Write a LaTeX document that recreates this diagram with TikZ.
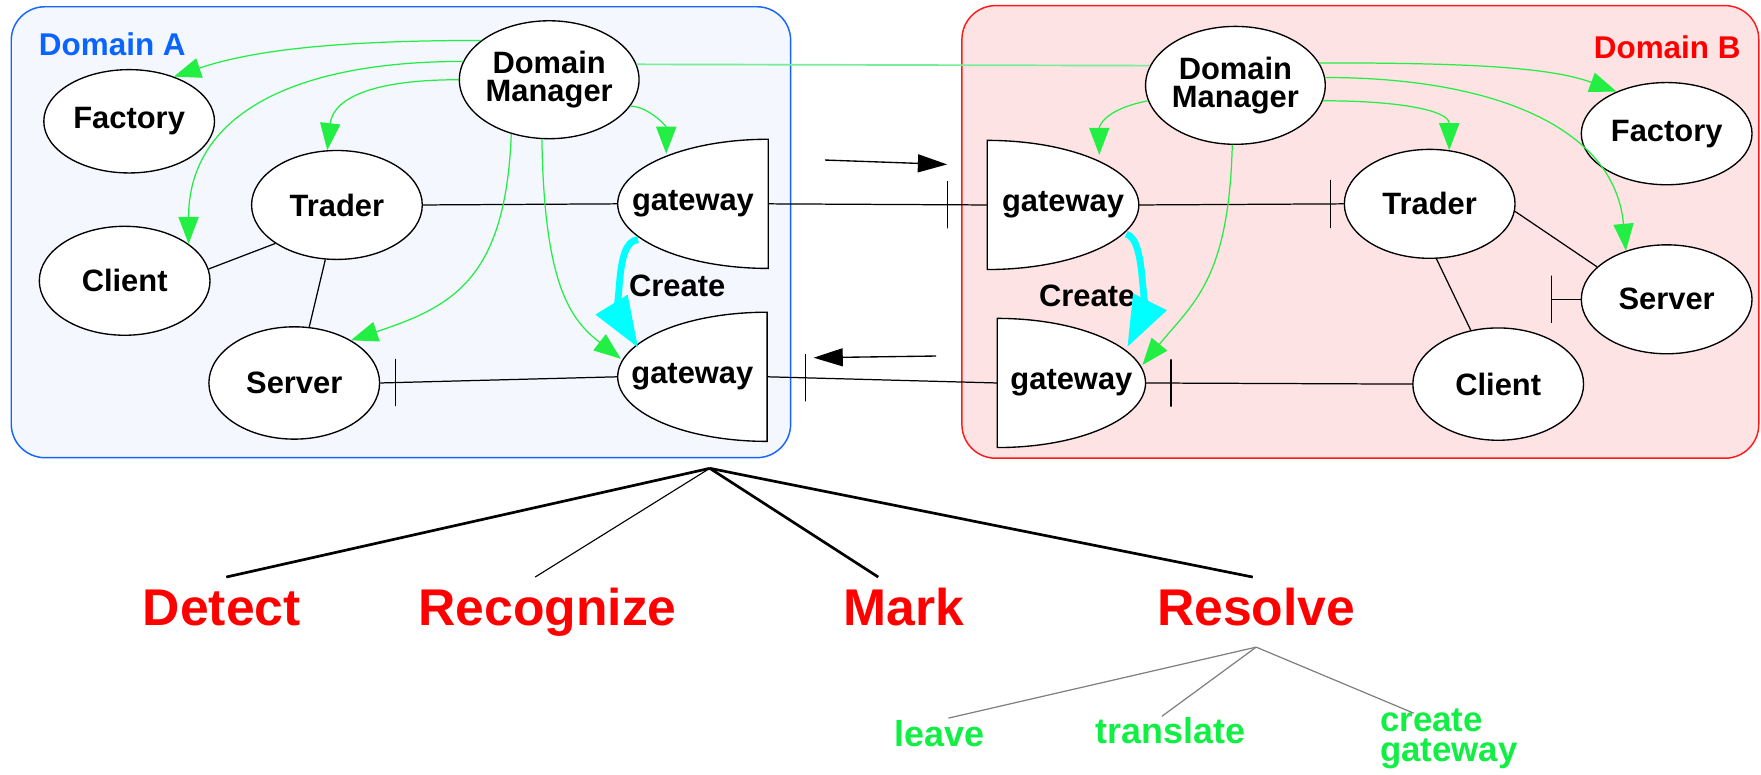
\documentclass[tikz,border=0pt]{standalone}
\usepackage{fontspec}
\setmainfont{Liberation Sans}
\usetikzlibrary{arrows.meta,shapes.geometric,calc}
\definecolor{blueA}{HTML}{1466FF}
\definecolor{bluelbl}{HTML}{0A64FF}
\definecolor{fillA}{HTML}{F4F7FD}
\definecolor{redB}{HTML}{FF1A1A}
\definecolor{fillB}{HTML}{FDE3E3}
\definecolor{grn}{HTML}{22EE44}
\definecolor{grnl}{HTML}{77EE99}
\definecolor{cyn}{HTML}{00FFFF}
\definecolor{lblred}{HTML}{FF0000}
\definecolor{lblgrn}{HTML}{11EE44}
\definecolor{subgray}{HTML}{808080}
\newcommand\nodefont{\fontsize{27.5}{25}\selectfont\bfseries}
\newcommand\bigfont{\fontsize{46}{50}\selectfont\bfseries}
\newcommand\smallfont{\fontsize{32}{24.5}\selectfont\bfseries}
\newcommand\cgfont{\fontsize{31}{26.5}\selectfont\bfseries}
\newcommand\domfont{\fontsize{28}{30}\selectfont\bfseries}
\begin{document}
\begin{tikzpicture}[x=1pt,y=-1pt,
  domA/.style={draw=blueA, fill=fillA, line width=1.3pt, rounded corners=30pt},
  domB/.style={draw=redB, fill=fillB, line width=1.3pt, rounded corners=30pt},
  ell/.style={ellipse, draw, fill=white, line width=1.2pt, inner sep=0pt, font=\nodefont, align=center, minimum width=152pt, minimum height=97pt},
  dm/.style={ell, minimum width=160pt, minimum height=105pt},
  gw/.style={rectangle, inner sep=0pt, minimum width=135pt, minimum height=115pt, font=\nodefont},
  gwshape/.style={draw, fill=white, line width=1.2pt},
  conn/.style={draw, line width=1.1pt},
  tickmark/.style={draw, line width=1.1pt, inner sep=0pt, minimum width=0pt, minimum height=42pt},
  garrow/.style={draw=grn, line width=1.1pt, -{Triangle[length=24pt,width=18pt]}},
  glink/.style={draw=grnl, line width=1.5pt},
  carrow/.style={draw=cyn, line width=6pt, -{Triangle[length=45pt,width=32pt]}},
  barrow/.style={draw, line width=1.2pt, -{Triangle[length=26pt,width=16pt]}},
  lbl/.style={font=\nodefont, inner sep=0pt},
  domlbl/.style={font=\domfont, inner sep=0pt},
  big/.style={font=\bigfont, text=lblred, inner xsep=0pt, inner ysep=10pt, text height=33pt, text depth=9pt, anchor=base},
  small/.style={font=\smallfont, text=lblgrn, inner sep=0pt, text height=23pt, text depth=7pt, anchor=base},
  sub/.style={draw=subgray, line width=1.1pt},
  branch/.style={draw, line width=2.4pt},
  thinbranch/.style={draw, line width=1pt}
]
\useasboundingbox (0,0) rectangle (1568,690);

% domains
\draw[domA] (10,6) rectangle (704,407.5);
\draw[domB] (856.5,5) rectangle (1566,408);
\node[domlbl, text=bluelbl] (labA) at (100,39) {Domain A};
\node[domlbl, text=lblred] (labB) at (1484.5,42) {Domain B};

% gateway shapes
\draw[gwshape] (684,124) .. controls (610,124) and (550,149.7) .. (550,181.5) .. controls (550,213.3) and (610,239) .. (684,239) -- cycle;
\draw[gwshape] (683,278) .. controls (609.5,278) and (550,303.7) .. (550,335.5) .. controls (550,367.3) and (609.5,393) .. (683,393) -- cycle;
\draw[gwshape] (879,125) .. controls (953.6,125) and (1014,150.7) .. (1014,182.5) .. controls (1014,214.3) and (953.6,240) .. (879,240) -- cycle;
\draw[gwshape] (888,283.5) .. controls (960.9,283.5) and (1020,309.2) .. (1020,341) .. controls (1020,372.8) and (960.9,398.5) .. (888,398.5) -- cycle;

\node[gw, minimum width=134pt] (gA1) at (617,181.5) {gateway};
\node[gw, minimum width=133pt] (gA2) at (616.5,335.5) {gateway};
\node[gw, minimum width=135pt] (gB1) at (946.5,182.5) {gateway};
\node[gw, minimum width=132pt] (gB2) at (954,341) {gateway};

% ellipse nodes
\node[dm] (dmA) at (489,71) {Domain\\Manager};
\node[ell, minimum height=92pt] (fA) at (115,108) {Factory};
\node[ell] (tA) at (300,182.5) {Trader};
\node[ell] (cA) at (111,250) {Client};
\node[ell, minimum height=100pt] (sA) at (262,341) {Server};
\node[dm] (dmB) at (1100,76) {Domain\\Manager};
\node[ell, minimum height=91pt] (fB) at (1484,119) {Factory};
\node[ell] (tB) at (1273,181.5) {Trader};
\node[ell] (sB) at (1484,266.5) {Server};
\node[ell, minimum height=100pt] (cB) at (1334,342) {Client};

% black connectors
\draw[conn] (tA.east) -- (gA1.west);
\draw[conn] (cA.8) -- (tA.-148);
\draw[conn] (tA.-102) -- (sA.75);
\draw[conn] (sA.east) -- (gA2.west) node[tickmark, pos=0.064] {};
\draw[conn] (gA1.east) -- (gB1.west) node[tickmark, pos=0.818] {};
\draw[conn] (gA2.east) -- (gB2.west) node[tickmark, pos=0.166] {};
\draw[conn] (gB1.east) -- (tB.west) node[tickmark, pos=0.936, minimum height=43pt] {};
\draw[conn] (gB2.east) -- (cB.west) node[tickmark, pos=0.095] {};
\coordinate (sBt) at ($(sB.west)+(-26,0)$);
\draw[conn] (sBt) -- (sB.west) node[tickmark, pos=0] {};
\draw[conn] (tB.-5) -- (sB.155);
\draw[conn] (tB.-83) -- (cB.117);

% message arrows
\coordinate (m1s) at (734.6,142.5);
\coordinate (m1e) at (843.3,146.4);
\coordinate (m2s) at (833.6,317);
\coordinate (m2e) at (724.4,318.5);
\draw[barrow] (m1s) -- (m1e);
\draw[barrow] (m2s) -- (m2e);

% green link between managers
\draw[glink] (dmA.10) -- (dmB.167);

% green arrows domain A
\draw[garrow] (dmA.150) .. controls +(-150,0) and +(60,-20) .. (fA.45);
\draw[garrow] (dmA.168) .. controls +(-160,0) and +(0,-110) .. (cA.30);
\draw[garrow] (dmA.180) .. controls +(-80,0) and +(5,-45) .. (tA.100);
\draw[garrow] (dmA.-125) .. controls +(-5,130) and +(90,-30) .. (sA.37);
\coordinate (gA2in) at ($(gA2.west)+(3,-16)$);
\draw[garrow] (dmA.-97) .. controls +(2,130) and +(-45,-35) .. (gA2in);
\coordinate (gA1in) at ($(gA1.north east)+(-91,13)$);
\draw[garrow] (dmA.-18) .. controls +(15,0) and +(0,-25) .. (gA1in);

% green arrows domain B
\draw[garrow] (dmB.15) .. controls +(130,0) and +(-60,-22) .. (fB.140);
\draw[garrow] (dmB.5) .. controls +(150,0) and +(-10,-110) .. (sB.130);
\draw[garrow] (dmB.-10) .. controls +(70,0) and +(0,-35) .. (tB.70);
\coordinate (gB1in) at ($(gB1.north west)+(100,13)$);
\draw[garrow] (dmB.190) .. controls +(-40,8) and +(0,-25) .. (gB1in);
\coordinate (gB2in) at ($(gB2.east)+(-3,-16)$);
\draw[garrow] (dmB.-93) .. controls +(-3,120) and +(45,-55) .. (gB2in);

% Create labels and cyan arrows
\node[lbl] (crA) at (603,254.5) {Create};
\node[lbl] (crB) at (968,263.5) {Create};
\coordinate (cAs) at ($(gA1.east)+(-116,32)$);
\coordinate (cAe) at ($(gA2.east)+(-115,-26)$);
\draw[carrow] (cAs) .. controls +(-23,0) and +(-13,-21) .. (cAe);
\coordinate (cBs) at ($(gB1.west)+(124,26)$);
\coordinate (cBe) at ($(gB2.west)+(116,-32)$);
\draw[carrow] (cBs) .. controls +(19,4) and +(11,-22) .. (cBe);

% bottom tree
\coordinate (root) at (632,417);
\node[big] (detect) at (197.5,557) {Detect};
\node[big] (recog) at (487.5,557) {Recognize};
\node[big] (mark) at (805,557) {Mark};
\node[big] (resolve) at (1118.5,557) {Resolve};
\draw[branch] (root) -- ($(detect.north)+(4,0)$);
\draw[thinbranch] (root) -- ($(recog.north)+(-11,0)$);
\draw[branch] (root) -- ($(mark.north)+(-23,0)$);
\draw[branch] (root) -- ($(resolve.north)+(-3,0)$);

\node[small] (leave) at (836.5,664.6) {leave};
\node[small] (transl) at (1042.5,662) {translate};
\node[font=\cgfont, text=lblgrn, inner sep=0pt, align=left, anchor=north west] (cgw) at (1228.8,631) {create\\gateway};
\draw[sub] (resolve.south) -- ($(leave.north)+(8,-2)$);
\draw[sub] (resolve.south) -- ($(transl.north)+(-8,-1)$);
\draw[sub] (resolve.south) -- ($(cgw.north west)+(30,4)$);
\end{tikzpicture}
\end{document}
